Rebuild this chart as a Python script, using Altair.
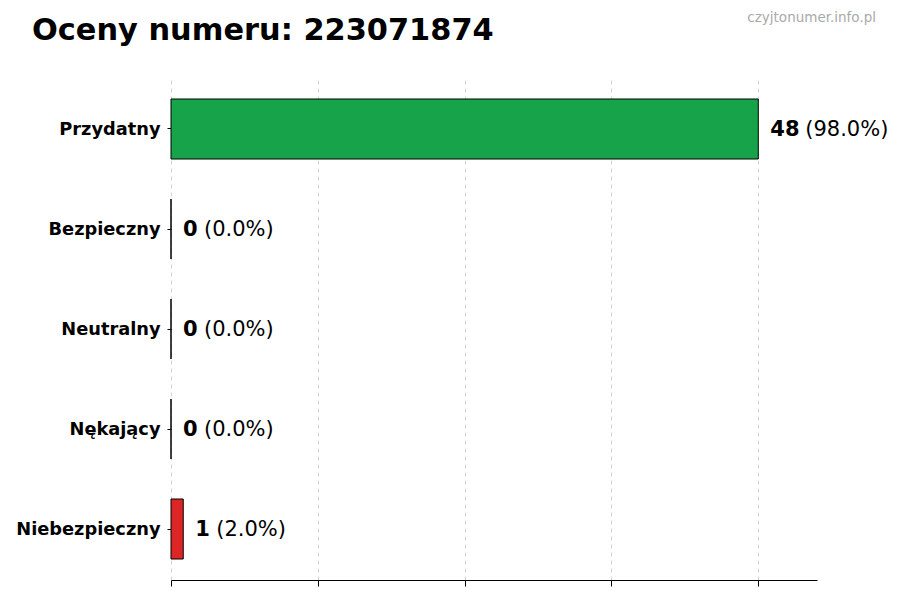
import altair as alt
import pandas as pd

categories = ["Przydatny", "Bezpieczny", "Neutralny", "Nękający", "Niebezpieczny"]
counts = [48, 0, 0, 0, 1]
percents = ["(98.0%)", "(0.0%)", "(0.0%)", "(0.0%)", "(2.0%)"]
bar_colors = ["#16a34a", "#6b7280", "#9ca3af", "#ea580c", "#dc2626"]
tick_values = [0, 12, 24, 36, 48]
title_text = "Oceny numeru: 223071874"
watermark = "czyjtonumer.info.pl"

df = pd.DataFrame({"kategoria": categories, "liczba": counts, "procent": percents})
df["nd"] = df["liczba"].astype(str).str.len()

x_scale = alt.Scale(domain=[0, 52.8], nice=False, zero=True)
y_enc = alt.Y("kategoria:N", sort=categories, title=None,
              scale=alt.Scale(paddingInner=0.4, paddingOuter=0.21),
              axis=alt.Axis(domain=False, tickSize=4, tickColor="black", labelPadding=7,
                            labelFont="DejaVu Sans", labelFontWeight="bold",
                            labelFontSize=17.8, labelColor="black", labelBaseline="middle",
                            labelOffset=1))

base = alt.Chart(df)

bars = base.mark_bar(stroke="black", strokeWidth=1).encode(
    x=alt.X("liczba:Q", scale=x_scale, title=None,
            axis=alt.Axis(values=tick_values, labels=False, tickSize=6, tickColor="black",
                          domainColor="black", grid=True, gridDash=[4, 4],
                          gridColor="#d4d4d4", gridWidth=1)),
    y=y_enc,
    color=alt.Color("kategoria:N", scale=alt.Scale(domain=categories, range=bar_colors), legend=None),
)

num = base.mark_text(align="left", baseline="middle", dx=12, dy=1, font="DejaVu Sans",
                     fontWeight="bold", fontSize=21, color="black").encode(
    x=alt.X("liczba:Q", scale=x_scale), y=y_enc, text="liczba:N")

pct1 = base.transform_filter("datum.nd == 1").mark_text(
    align="left", baseline="middle", dx=33, dy=1, font="DejaVu Sans", fontSize=21, color="black"
).encode(x=alt.X("liczba:Q", scale=x_scale), y=y_enc, text="procent:N")

pct2 = base.transform_filter("datum.nd == 2").mark_text(
    align="left", baseline="middle", dx=47, dy=1, font="DejaVu Sans", fontSize=21, color="black"
).encode(x=alt.X("liczba:Q", scale=x_scale), y=y_enc, text="procent:N")

mark = alt.Chart(pd.DataFrame({"t": [watermark]})).mark_text(
    align="right", baseline="middle", font="DejaVu Sans", fontSize=13.5, color="#aaaaaa"
).encode(x=alt.value(705), y=alt.value(-60), text="t:N")

title = alt.Chart(pd.DataFrame({"t": [title_text]})).mark_text(
    align="left", baseline="alphabetic", font="DejaVu Sans", fontSize=30.4,
    fontWeight="bold", color="black"
).encode(x=alt.value(-139), y=alt.value(-38), text="t:N")

chart = alt.layer(bars, num, pct1, pct2, mark, title).properties(
    width=646, height=502,
    autosize=alt.AutoSizeParams(type="none"),
    padding={"left": 163, "top": 70, "right": 75, "bottom": 12},
).configure_view(stroke=None)

chart.save("out.html", embed_options={"renderer": "svg", "actions": False})
